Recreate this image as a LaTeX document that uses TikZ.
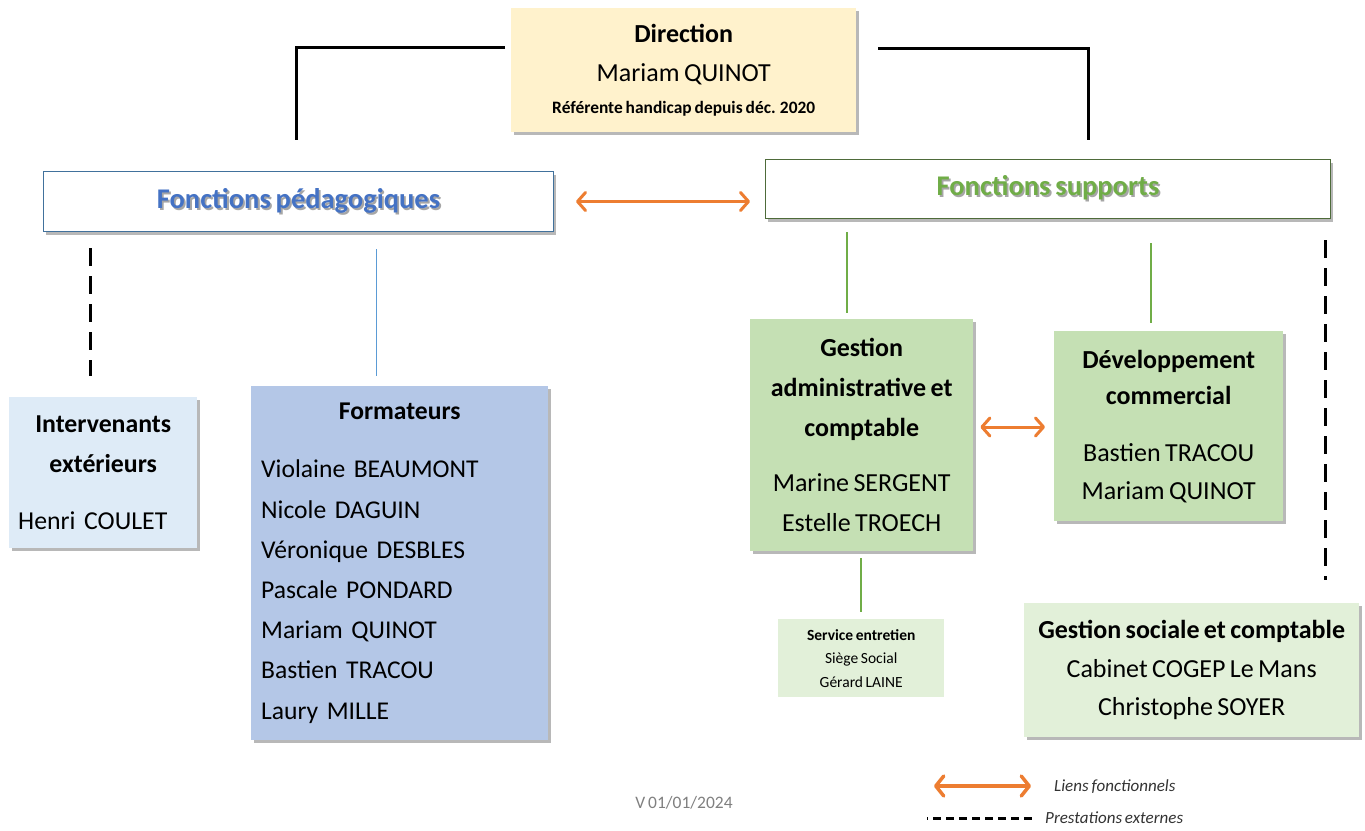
\documentclass[tikz,border=0pt]{standalone}
\usepackage{fontspec}
\setmainfont{Carlito}[WordSpace=0.75]
\usetikzlibrary{shadows,arrows.meta}
\definecolor{jaune}{HTML}{FFF2CC}
\definecolor{bleubord}{HTML}{41719C}
\definecolor{bleutexte}{HTML}{4472C4}
\definecolor{vertbord}{HTML}{4E6B3A}
\definecolor{verttexte}{HTML}{70AD47}
\definecolor{bleuclair}{HTML}{DEEBF7}
\definecolor{bleumoyen}{HTML}{B4C7E7}
\definecolor{vertmoyen}{HTML}{C5E0B4}
\definecolor{vertclair}{HTML}{E2F0D9}
\definecolor{orange}{HTML}{ED7D31}
\definecolor{bleutrait}{HTML}{5B9BD5}
\newcommand{\ombre}[2]{\makebox[0pt][l]{\hspace{1.8pt}\raisebox{-1.8pt}{\color{black!35}#2}}{\color{#1}#2}}
\begin{document}
\begin{tikzpicture}[x=1pt,y=-1pt,
	boite/.style={anchor=north west,inner sep=0pt,align=center,
		drop shadow={shadow xshift=2.5pt,shadow yshift=-3pt,opacity=0.5,fill=black!55}},
	titre/.style={boite,fill=white,line width=1pt,font=\fontsize{28.5}{30}\selectfont\bfseries},
	trait/.style={line width=3pt},
	tirets/.style={line width=3pt,dash pattern=on 18pt off 10pt},
	pointe/.tip={Straight Barb[length=8pt,width=18pt,line join=round,line cap=round]},
	lien/.style={line width=3pt,draw=orange,line cap=round,pointe-pointe}]
\useasboundingbox[fill=white] (0,0) rectangle (1365,830);

\node[boite,fill=jaune,minimum width=345pt,minimum height=124pt,
	font=\fontsize{26}{41}\selectfont] (direction) at (511,8)
	{\raisebox{-2pt}{\textbf{Direction}}\\Mariam QUINOT\\[-9pt]{\fontsize{17.4}{18}\selectfont\bfseries Référente handicap depuis déc. 2020}};

\node[titre,draw=bleubord,minimum width=510pt,minimum height=60pt] (pedago) at (43,171)
	{\raisebox{-3pt}{\ombre{bleutexte}{Fonctions pédagogiques}}};
\node[titre,draw=vertbord,minimum width=565pt,minimum height=59pt] (supports) at (765,159)
	{\raisebox{-2pt}{\ombre{verttexte}{Fonctions supports}}};

\node[boite,fill=bleuclair,minimum width=188pt,minimum height=151pt,text width=170pt,
	font=\fontsize{25.8}{40}\selectfont] (interv) at (9,397)
	{\textbf{Intervenants}\\\textbf{extérieurs}\\[17pt]\makebox[\linewidth][l]{Henri COULET}};

\node[boite,fill=bleumoyen,minimum width=297pt,minimum height=354pt,text width=277pt,align=left,
	font=\fontsize{25.6}{40.2}\selectfont] (formateurs) at (251,386)
	{\makebox[\linewidth]{\bfseries Formateurs}\\[18pt]
	Violaine BEAUMONT\\Nicole DAGUIN\\Véronique DESBLES\\Pascale PONDARD\\
	Mariam QUINOT\\Bastien TRACOU\\Laury MILLE};

\node[boite,fill=vertmoyen,minimum width=223pt,minimum height=232pt,
	font=\fontsize{26}{40}\selectfont] (gestion) at (750,319)
	{\textbf{Gestion}\\\textbf{administrative et}\\\textbf{comptable}\\[15pt]
	Marine SERGENT\\Estelle TROECH};

\node[boite,fill=vertmoyen,minimum width=229pt,minimum height=190pt,
	font=\fontsize{26}{38}\selectfont] (commercial) at (1054,331)
	{\raisebox{-2pt}{\textbf{Développement}}\\\textbf{commercial}\\[19pt]Bastien TRACOU\\Mariam QUINOT};

\node[anchor=north west,inner sep=0pt,align=center,fill=vertclair,minimum width=166pt,minimum height=78pt,
	font=\fontsize{15.5}{23.5}\selectfont] (entretien) at (778,619)
	{\textbf{Service entretien}\\Siège Social\\Gérard LAINE};

\node[boite,fill=vertclair,minimum width=335pt,minimum height=134pt,
	font=\fontsize{26}{38.5}\selectfont] (sociale) at (1024,603)
	{\textbf{Gestion sociale et comptable}\\Cabinet COGEP Le Mans\\Christophe SOYER};

\coordinate (dg) at (505,47);
\coordinate (cg) at (296,47);
\coordinate (bg) at (296,140);
\coordinate (dd) at (878,48);
\coordinate (cd) at (1088,48);
\coordinate (bd) at (1088,140);
\draw[trait] (dg) -- (cg) -- (bg);
\draw[trait] (dd) -- (cd) -- (bd);

\draw[lien] ([xshift=22pt]pedago.east) -- ([xshift=-15pt]pedago.east -| supports.west);
\draw[lien] ([xshift=7pt]gestion.east |- 0,427) -- ([xshift=-9pt]commercial.west |- 0,427);

\coordinate (p1) at (90,248);
\coordinate (p2) at (90,376);
\draw[tirets] (p1) -- (p2);
\draw[bleutrait,line width=1.2pt] ([yshift=-17pt]pedago.south -| formateurs.north) ++(-23,0) coordinate (f1)
	-- (f1 |- 0,376);

\draw[verttexte,line width=1.5pt] ([yshift=-13pt]supports.south -| 847,0) -- ([yshift=6pt]gestion.north -| 847,0);
\draw[verttexte,line width=1.5pt] ([yshift=-24pt]supports.south -| 1151,0) -- ([yshift=8pt]commercial.north -| 1151,0);
\draw[verttexte,line width=1.5pt] ([yshift=-7pt]gestion.south -| 861,0) -- ([yshift=7pt]entretien.north -| 861,0);

\coordinate (s1) at (1325,240);
\coordinate (s2) at (1325,580);
\draw[tirets] (s1) -- (s2);

\node[text=black!50,font=\fontsize{17.5}{18}\selectfont] (version) at (684,803) {V 01/01/2024};

\coordinate (l1) at (934,786);
\coordinate (l2) at (1031,786);
\draw[lien,line width=3.5pt,{Straight Barb[length=8pt,width=20pt,line join=round,line cap=round]}-{Straight Barb[length=8pt,width=20pt,line join=round,line cap=round]}] (l1) -- (l2);
\node[anchor=west,inner sep=0pt,text=black!80,font=\fontsize{17}{18}\selectfont\itshape] (liens) at (1054,787) {Liens fonctionnels};
\coordinate (l3) at (927,818);
\coordinate (l4) at (1035,818);
\draw[line width=3pt,dash pattern=on 8pt off 5pt,dash phase=7pt] (l3) -- (l4);
\node[anchor=west,inner sep=0pt,text=black!80,font=\fontsize{17}{18}\selectfont\itshape] (prestations) at (1045,818) {Prestations externes};
\end{tikzpicture}
\end{document}
